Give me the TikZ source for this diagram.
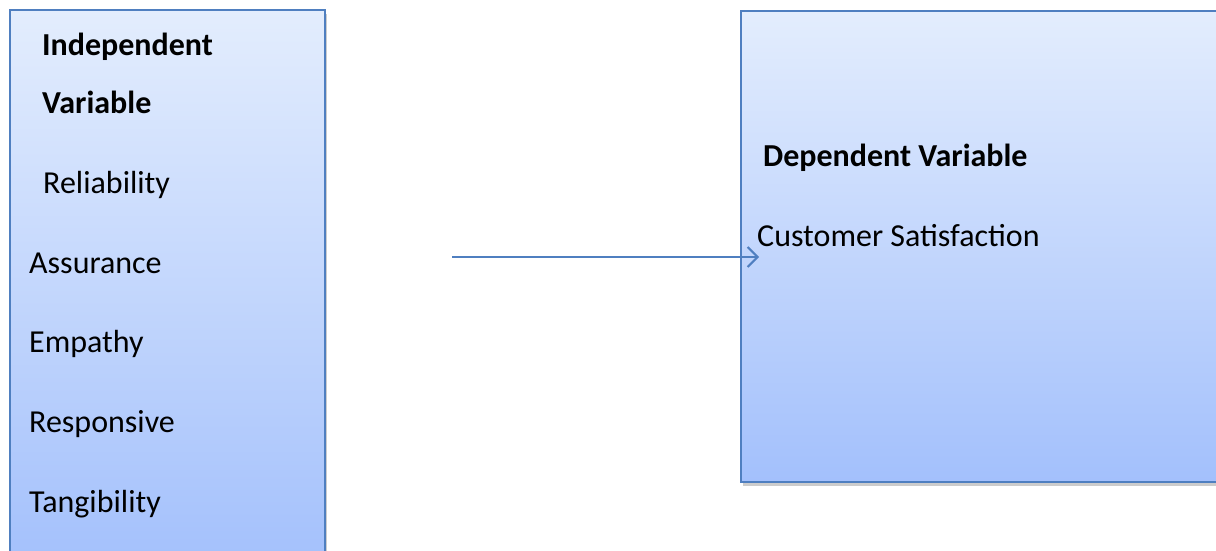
\documentclass[tikz,border=0pt]{standalone}
\usepackage{fontspec}
\setmainfont{Carlito}
\usetikzlibrary{arrows.meta,shadows}
\definecolor{boxtop}{HTML}{E3EDFD}
\definecolor{boxbot}{HTML}{A3C0FC}
\definecolor{boxline}{HTML}{4F7FC0}
\tikzset{
  varbox/.style={draw=boxline, line width=2pt, top color=boxtop, bottom color=boxbot,
    drop shadow={shadow xshift=2pt, shadow yshift=-4pt, opacity=0.4, fill=black!50}},
  lbl/.style={anchor=base west, inner sep=0pt, font=\fontsize{32}{38}\selectfont},
  blbl/.style={lbl, font=\fontsize{32}{38}\selectfont\bfseries},
  conn/.style={draw=boxline, line width=2pt, -{Straight Barb[length=10pt, width=20pt, line width=2pt]}}
}
\begin{document}
\begin{tikzpicture}[x=1pt, y=-1pt]
\useasboundingbox (0,0) rectangle (1216,550);
\clip (0,0) rectangle (1216,550);
\path[varbox] (9.5,10) rectangle (324.5,570);
\node[varbox, rectangle, minimum width=500pt, minimum height=471pt, anchor=north west] (dep) at (740,10) {};
\node[blbl] (iv1) at (42,55) {Independent};
\node[blbl] (iv2) at (42,113) {Variable};
\node[lbl] (rel) at (43,193) {Reliability};
\node[lbl] (ass) at (29,273) {Assurance};
\node[lbl] (emp) at (29,352) {Empathy};
\node[lbl] (res) at (29,432) {Responsive};
\node[lbl] (tan) at (29,512) {Tangibility};
\node[blbl] (dv) at (763,166) {Dependent Variable};
\node[lbl] (cs) at (757,246) {Customer Satisfaction};
\coordinate (s) at (452,257);
\coordinate (e) at (759,257);
\draw[conn] (s) -- (e);
\end{tikzpicture}
\end{document}
